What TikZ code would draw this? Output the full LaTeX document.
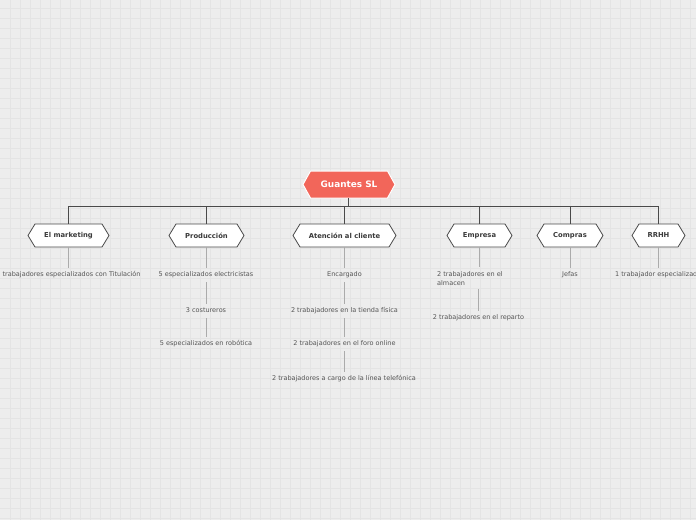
\documentclass[tikz,border=0pt]{standalone}
\usepackage{fontspec}
\setmainfont{DejaVu Sans}
\definecolor{bg}{HTML}{EDEDED}
\definecolor{gridc}{HTML}{E4E4E4}
\definecolor{rootc}{HTML}{F2665A}
\definecolor{edgec}{HTML}{4A4A4A}
\definecolor{leafline}{HTML}{ABABAB}
\definecolor{leaftext}{HTML}{555555}
\definecolor{labc}{HTML}{3A3A3A}
\tikzset{
  rootshape/.style={fill=rootc, draw=white, line width=1pt},
  rootlabel/.style={font=\fontsize{8.9}{10}\selectfont\bfseries, text=white, inner sep=0pt},
  kidshape/.style={fill=white, draw=edgec, line width=0.8pt},
  kidlabel/.style={font=\fontsize{6.8}{8}\selectfont\bfseries, text=labc, inner sep=0pt},
  leafbase/.style={font=\fontsize{6.5}{9}\selectfont, text=leaftext, inner xsep=1pt, inner ysep=4pt},
  leaf/.style={leafbase, text height=5pt, text depth=1.5pt},
  trunk/.style={draw=edgec, line width=0.8pt},
  twig/.style={draw=leafline, line width=0.9pt},
}
% #1 name, #2 x, #3 y, #4 half width, #5 half height, #6 inset, #7 shape style, #8 label style, #9 text
\newcommand\hexnode[9]{%
  \draw[#7] (#2-#4,#3) -- (#2-#4+#6,#3-#5) -- (#2+#4-#6,#3-#5) -- (#2+#4,#3)
     -- (#2+#4-#6,#3+#5) -- (#2-#4+#6,#3+#5) -- cycle;
  \node[#8, minimum width=2*#4, minimum height=2*#5] (#1) at (#2,#3) {#9};}
\begin{document}
\begin{tikzpicture}[x=1pt,y=-1pt]
\useasboundingbox (0,0) rectangle (696,520);
\clip (0,0) rectangle (696,520);
\fill[bg] (0,0) rectangle (696,520);
\foreach \i in {1,...,69} \draw[gridc, line width=0.6pt] (10*\i,0) -- (10*\i,520);
\foreach \j in {0,...,51} \draw[gridc, line width=0.6pt] (0,10*\j+8) -- (696,10*\j+8);

\hexnode{root}{349}{184.5}{46}{13.5}{7.5}{rootshape}{rootlabel}{Guantes SL}
\hexnode{mk}{68.5}{235.5}{40.5}{11.5}{7}{kidshape}{kidlabel}{El marketing}
\hexnode{pr}{206.5}{235.5}{37.5}{11.5}{7}{kidshape}{kidlabel}{Producción}
\hexnode{at}{344.5}{235.5}{51.5}{11.5}{7}{kidshape}{kidlabel}{Atención al cliente}
\hexnode{em}{479.5}{235.5}{32.5}{11.5}{7}{kidshape}{kidlabel}{Empresa}
\hexnode{co}{570}{235.5}{33}{11.5}{7}{kidshape}{kidlabel}{Compras}
\hexnode{rh}{658.5}{235.5}{26.5}{11.5}{7}{kidshape}{kidlabel}{RRHH}

\coordinate (bus) at (348,206);
\draw[trunk] (348,198) -- (bus);
\foreach \k in {mk,pr,at,em,co,rh}
  \draw[trunk] (bus) -| (\k.north);

% leaves
\node[leaf] (mk1) at (68.5,275) {3 trabajadores especializados con Titulación};
\node[leaf] (pr1) at (206,275) {5 especializados electricistas};
\node[leaf] (pr2) at (206,311) {3 costureros};
\node[leaf] (pr3) at (206,344) {5 especializados en robótica};
\node[leaf] (at1) at (344.5,275) {Encargado};
\node[leaf] (at2) at (344.5,311) {2 trabajadores en la tienda física};
\node[leaf] (at3) at (344.5,344) {2 trabajadores en el foro online};
\node[leaf] (at4) at (344,379) {2 trabajadores a cargo de la línea telefónica};
\node[leafbase, align=left, anchor=north west] (em1) at (436,267) {2 trabajadores en el\\almacen};
\node[leaf] (em2) at (478.5,318) {2 trabajadores en el reparto};
\node[leaf] (co1) at (570,275) {Jefas};
\node[leaf, anchor=west] (rh1) at (614,275) {1 trabajador especializado};

\draw[twig] (mk.south) -- (mk.south |- mk1.north);
\draw[twig] (pr.south) -- (pr.south |- pr1.north);
\draw[twig] (pr1.south) -- (pr1.south |- pr2.north);
\draw[twig] (pr2.south) -- (pr2.south |- pr3.north);
\draw[twig] (at.south) -- (at.south |- at1.north);
\draw[twig] (at1.south) -- (at1.south |- at2.north);
\draw[twig] (at2.south) -- (at2.south |- at3.north);
\draw[twig] (at3.south) -- (at3.south |- at4.north);
\draw[twig] (em.south) -- (em.south |- em1.north);
\draw[twig] (em1.south -| em2.north) -- (em2.north);
\draw[twig] (co.south) -- (co.south |- co1.north);
\draw[twig] (rh.south) -- (rh.south |- rh1.north);
\end{tikzpicture}
\end{document}
